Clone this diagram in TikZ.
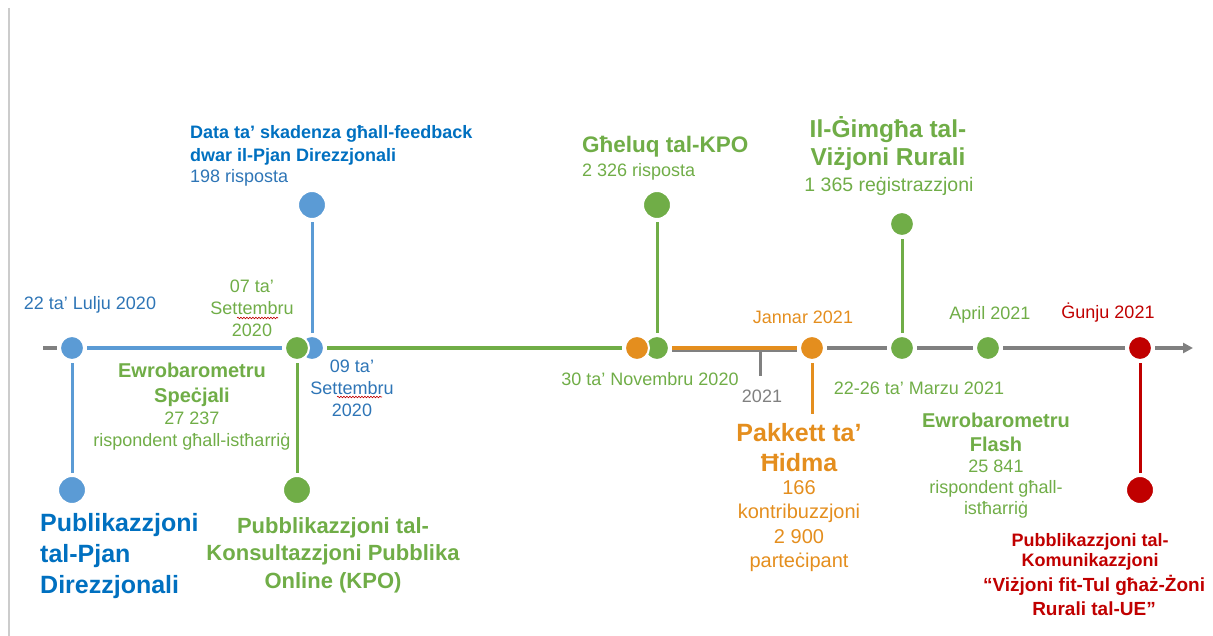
\documentclass[tikz,border=0pt]{standalone}
\usepackage{fontspec}
\setmainfont{Liberation Sans}
\usetikzlibrary{arrows.meta,positioning,decorations.pathmorphing}
\definecolor{mblue}{RGB}{0,112,192}
\definecolor{lblue}{RGB}{46,117,182}
\definecolor{dblue}{RGB}{91,155,213}
\definecolor{mgreen}{RGB}{112,173,71}
\definecolor{morange}{RGB}{228,142,30}
\definecolor{mred}{RGB}{192,0,0}
\definecolor{mgray}{RGB}{128,128,128}
\begin{document}
\begin{tikzpicture}[x=1pt,y=-1pt,
  tdot/.style={circle,draw=white,line width=2pt,minimum size=24pt,inner sep=0pt},
  edot/.style={tdot,minimum size=28pt},
  axisline/.style={line width=4pt,shorten <=2pt,shorten >=2pt},
  stemline/.style={line width=3pt,shorten <=2pt,shorten >=2pt},
  lbl/.style={inner sep=0pt,align=center,font=\fontsize{18}{22}\selectfont},
  ttl/.style={lbl,font=\bfseries\fontsize{20}{24}\selectfont},
  squiggle/.style={mred,line width=0.6pt,decorate,decoration={snake,amplitude=0.8pt,segment length=3pt}}]
  \useasboundingbox (0,0) rectangle (1213,636);
  \draw[gray!40,line width=2pt] (8.5,8) -- (8.5,636);
%punti fuq il-linja
  \node[tdot,fill=dblue] (lulju) at (72,348) {};
  \node[tdot,fill=dblue] (set09) at (312,348) {};
  \node[tdot,fill=mgreen] (set07) at (297,348) {};
  \node[tdot,fill=mgreen] (kpo) at (657,348) {};
  \node[tdot,fill=morange] (nov30) at (637,348) {};
  \node[tdot,fill=morange] (jannar) at (812,348) {};
  \node[tdot,fill=mgreen] (marzu) at (902,348) {};
  \node[tdot,fill=mgreen] (april) at (988,348) {};
  \node[tdot,fill=mred] (gunju) at (1140,348) {};
  \coordinate (start) at (41,348);
  \coordinate (tmiem) at (1195,348);
  \coordinate (tick) at (760,352);
  \coordinate (tickend) at (760,376);
%punti fit-truf
  \node[edot,fill=dblue] (pjan) at (72,490) {};
  \node[edot,fill=mgreen] (konsult) at (297,490) {};
  \node[edot,fill=dblue] (feedback) at (312,205) {};
  \node[edot,fill=mgreen] (gheluq) at (657,205) {};
  \node[tdot,fill=mgreen] (gimgha) at (902,224) {};
  \node[edot,fill=mred] (komunik) at (1140,490) {};
  \coordinate (hidma) at (812,416);
%linja taz-zmien
  \draw[axisline,mgray] (start) -- (lulju);
  \draw[axisline,dblue] (lulju) -- (set07);
  \draw[axisline,mgreen] (set09) -- (nov30);
  \draw[axisline,mgray,transform canvas={yshift=-1.5pt}] (kpo) -- (jannar);
  \draw[axisline,morange] (kpo) -- (jannar);
  \draw[axisline,mgray] (jannar) -- (marzu);
  \draw[axisline,mgray] (marzu) -- (april);
  \draw[axisline,mgray] (april) -- (gunju);
  \draw[axisline,mgray,-{Triangle[length=10pt,width=10pt]}] (gunju) -- (tmiem);
  \draw[line width=3pt,mgray] (tick) -- (tickend);
%zkuk
  \draw[stemline,dblue] (lulju) -- (pjan);
  \draw[stemline,mgreen] (set07) -- (konsult);
  \draw[stemline,dblue] (set09) -- (feedback);
  \draw[stemline,mgreen] (kpo) -- (gheluq);
  \draw[stemline,morange] (jannar) -- (hidma);
  \draw[stemline,mgreen] (marzu) -- (gimgha);
  \draw[stemline,mred] (gunju) -- (komunik);
%dati
  \node[lbl,text=lblue] (lulju-d) at (90,305) {22 ta’ Lulju 2020};
  \node[lbl,text=mgreen] (set07-d) at (252,308) {07 ta’\\Settembru\\2020};
  \node[lbl,text=lblue] (set09-d) at (352,388) {09 ta’\\Settembru\\2020};
  \node[lbl,text=mgreen] (nov30-d) at (650,379) {30 ta’ Novembru 2020};
  \node[lbl,text=morange] (jannar-d) at (803,317) {Jannar 2021};
  \node[lbl,text=mgray] (sena) at (762,396) {2021};
  \node[lbl,text=mgreen] (marzu-d) at (919,388) {22-26 ta’ Marzu 2021};
  \node[lbl,text=mgreen] (april-d) at (990,315) {April 2021};
  \node[lbl,text=mred] (gunju-d) at (1108,313) {Ġunju 2021};
  \draw[squiggle] (237,318) -- (278,318);
  \draw[squiggle] (337,397) -- (382,397);
%avvenimenti
  \node[ttl,text=mgreen,font=\bfseries\fontsize{20}{25}\selectfont] (ewro1) at (192,385) {Ewrobarometru\\Speċjali};
  \node[lbl,text=mgreen] (ewro1-n) at (192,431) {27 237\\rispondent għall-istħarriġ};
  \node[ttl,text=mblue,anchor=west,align=left,font=\bfseries\fontsize{18}{23}\selectfont] (feedback-t) at (190,145) {Data ta’ skadenza għall-feedback\\dwar il-Pjan Direzzjonali};
  \node[lbl,text=lblue,anchor=west] (feedback-n) at (190,178) {198 risposta};
  \node[ttl,text=mblue,anchor=west,align=left,font=\bfseries\fontsize{25}{31}\selectfont] (pjan-t) at (40,556) {Publikazzjoni\\tal-Pjan\\Direzzjonali};
  \node[ttl,text=mgreen,font=\bfseries\fontsize{22}{27.5}\selectfont] (konsult-t) at (333,555) {Pubblikazzjoni tal-\\Konsultazzjoni Pubblika\\Online (KPO)};
  \node[ttl,text=mgreen,anchor=west,font=\bfseries\fontsize{22.5}{27}\selectfont] (gheluq-t) at (582,147) {Għeluq tal-KPO};
  \node[lbl,text=mgreen,anchor=west] (gheluq-n) at (582,172) {2 326 risposta};
  \node[ttl,text=mgreen,font=\bfseries\fontsize{24.5}{28}\selectfont] (gimgha-t) at (888,144) {Il-Ġimgħa tal-\\Viżjoni Rurali};
  \node[lbl,text=mgreen,font=\fontsize{19.5}{23}\selectfont] (gimgha-n) at (889,186) {1 365 reġistrazzjoni};
  \node[ttl,text=morange,font=\bfseries\fontsize{25}{30}\selectfont] (hidma-t) at (799,448) {Pakkett ta’\\Ħidma};
  \node[lbl,text=morange,font=\fontsize{20}{24.5}\selectfont] (hidma-n) at (799,526) {166\\kontribuzzjoni\\2 900\\parteċipant};
  \node[ttl,text=mgreen] (ewro2) at (996,432) {Ewrobarometru\\Flash};
  \node[lbl,text=mgreen,font=\fontsize{18}{21}\selectfont] (ewro2-n) at (996,489) {25 841\\rispondent għall-\\istħarriġ};
  \node[ttl,text=mred,font=\bfseries\fontsize{18}{20}\selectfont] (komunik-t) at (1090,552) {Pubblikazzjoni tal-\\Komunikazzjoni};
  \node[ttl,text=mred,font=\bfseries\fontsize{19}{24}\selectfont] (komunik-n) at (1094,595) {“Viżjoni fit-Tul għaż-Żoni\\Rurali tal-UE”};
\end{tikzpicture}
\end{document}
